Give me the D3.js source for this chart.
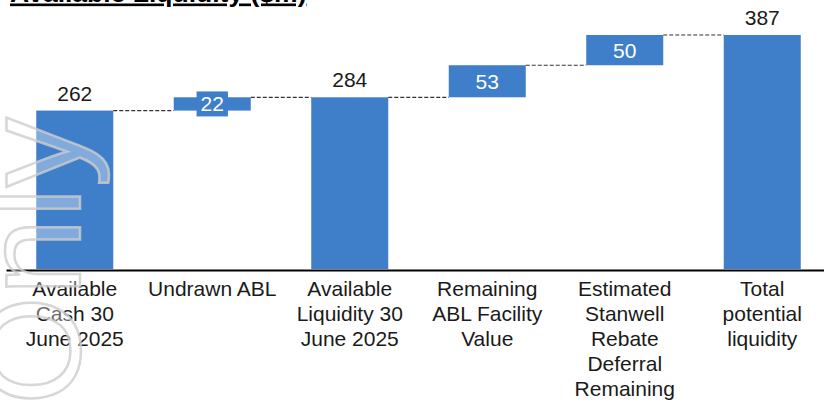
<!DOCTYPE html>
<html>
<head>
<meta charset="utf-8">
<script src="https://cdn.jsdelivr.net/npm/d3@7"></script>
<style>
  body { margin: 0; background: #fff; }
  svg { display: block; font-family: Arial, "Liberation Sans", sans-serif; }
</style>
</head>
<body>
<svg id="canvas"></svg>
<script>
// Available liquidity waterfall

let categories = ['cash', 'abl', 'liquidity', 'facility', 'rebate', 'total']
let categoryLines = [
  ['Available', 'Cash 30', 'June 2025'],
  ['Undrawn ABL'],
  ['Available', 'Liquidity 30', 'June 2025'],
  ['Remaining', 'ABL Facility', 'Value'],
  ['Estimated', 'Stanwell', 'Rebate', 'Deferral', 'Remaining'],
  ['Total', 'potential', 'liquidity']
]
let values = [262, 22, 284, 53, 50, 387]
let kinds = ['total', 'delta', 'total', 'delta', 'delta', 'total']
let titleText = 'Available Liquidity ($m)'
let watermarkText = 'Only'

//Dimensions
let width = 824
let height = 401
let baseline = 269

let barColor = '#3f7ec9'

let svg = d3.select('#canvas')
            .attr('width', width)
            .attr('height', height)

// work out where each bar starts and ends
let steps = []
let running = 0
values.forEach((v, i) => {
  if (kinds[i] === 'total') {
    steps.push({ start: 0, end: v })
    running = v
  } else {
    steps.push({ start: running, end: running + v })
    running += v
  }
})

let xScale = d3.scaleBand()
               .domain(categories)
               .range([6, 831])
               .paddingInner(0.44)
               .paddingOuter(0.22)

let yScale = d3.scaleLinear()
               .domain([0, d3.max(values)])
               .range([baseline, 35])

// bars
svg.selectAll('rect.bar')
   .data(categories)
   .enter()
   .append('rect')
   .attr('class', 'bar')
   .attr('x', (c) => xScale(c))
   .attr('width', xScale.bandwidth())
   .attr('y', (c, i) => yScale(steps[i].end))
   .attr('height', (c, i) => yScale(steps[i].start) - yScale(steps[i].end))
   .style('fill', barColor)

// dashed connectors
for (let i = 0; i < categories.length - 1; i++) {
  let level = yScale(steps[i].end)
  svg.append('line')
     .attr('x1', xScale(categories[i]) + xScale.bandwidth())
     .attr('x2', xScale(categories[i + 1]))
     .attr('y1', level)
     .attr('y2', level)
     .style('stroke', '#333')
     .style('stroke-width', 1.2)
     .style('stroke-dasharray', '4,2')
}

// axis line
let xAxis = d3.axisBottom(xScale).tickSize(0).tickFormat('')
let axisG = svg.append('g')
               .attr('transform', `translate(0,${baseline + 1})`)
               .call(xAxis)
axisG.select('.domain')
     .style('stroke', '#000')
     .style('stroke-width', 2)

// category labels
categories.forEach((c, i) => {
  let t = svg.append('text')
             .attr('x', xScale(c) + xScale.bandwidth() / 2)
             .attr('y', 296)
             .attr('text-anchor', 'middle')
             .style('font-size', '21px')
             .style('fill', '#1a1a1a')
  categoryLines[i].forEach((line, j) => {
    t.append('tspan')
     .attr('x', xScale(c) + xScale.bandwidth() / 2)
     .attr('y', 296 + j * 25)
     .text(line)
  })
})

// value labels
values.forEach((v, i) => {
  let cx = xScale(categories[i]) + xScale.bandwidth() / 2
  if (kinds[i] === 'total') {
    svg.append('text')
       .attr('x', cx)
       .attr('y', yScale(steps[i].end) - 10)
       .attr('text-anchor', 'middle')
       .style('font-size', '21px')
       .style('fill', '#1a1a1a')
       .text(v)
  } else {
    let cy = (yScale(steps[i].start) + yScale(steps[i].end)) / 2
    let label = svg.append('text')
                   .attr('x', cx)
                   .attr('y', cy + 7.5)
                   .attr('text-anchor', 'middle')
                   .style('font-size', '21px')
                   .style('fill', '#fff')
                   .text(v)
    let w = label.node().getComputedTextLength() + 8
    svg.insert('rect', () => label.node())
       .attr('x', cx - w / 2)
       .attr('y', cy - 12.5)
       .attr('width', w)
       .attr('height', 25)
       .style('fill', barColor)
  }
})

// title, cut off at the top
svg.append('text')
   .attr('x', 10)
   .attr('y', 1.5)
   .style('font-size', '26.5px')
   .style('font-weight', 'bold')
   .style('text-decoration', 'underline')
   .style('fill', '#000')
   .text(titleText)

// watermark on the left edge
svg.append('text')
   .attr('transform', 'translate(80,405) rotate(-90)')
   .style('font-size', '140px')
   .style('fill', 'rgba(255,255,255,0.35)')
   .style('stroke', 'rgba(205,205,205,0.8)')
   .style('stroke-width', 2.5)
   .text(watermarkText)
</script>
</body>
</html>
